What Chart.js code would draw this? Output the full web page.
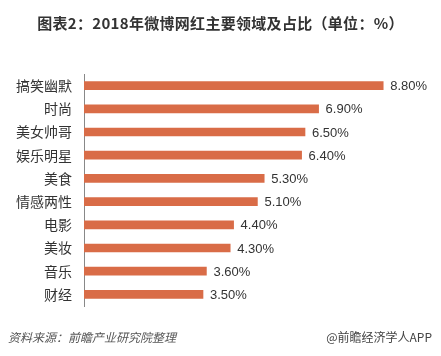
<!DOCTYPE html>
<html><head><meta charset="utf-8">
<script src="https://cdn.jsdelivr.net/npm/chart.js@4/dist/chart.umd.min.js"></script>
<style>
html,body{margin:0;padding:0;background:#fff;}
#wrap{position:relative;width:441px;height:356px;overflow:hidden;font-family:"Liberation Sans","Noto Sans CJK SC",sans-serif;}
#title{position:absolute;left:0;top:12px;width:441px;text-align:center;font-size:15px;letter-spacing:0.3px;font-weight:bold;color:#333;font-family:"Noto Sans CJK SC",sans-serif;}
#src{position:absolute;left:8px;top:328px;font-size:12px;font-style:italic;color:#555;font-family:"Noto Sans CJK SC",sans-serif;}
#app{position:absolute;right:9px;top:328px;font-size:12px;color:#444;font-family:"Noto Sans CJK SC",sans-serif;}
canvas{position:absolute;left:0;top:0;}
</style></head>
<body><div id="wrap">
<canvas id="c" width="441" height="356"></canvas>
<div id="title">图表2：2018年微博网红主要领域及占比（单位：%）</div>
<div id="src">资料来源：前瞻产业研究院整理</div>
<div id="app">@前瞻经济学人APP</div>
</div>
<script>
const categories = ["搞笑幽默","时尚","美女帅哥","娱乐明星","美食","情感两性","电影","美妆","音乐","财经"];
const values = [8.8, 6.9, 6.5, 6.4, 5.3, 5.1, 4.4, 4.3, 3.6, 3.5];

const valueLabels = {
  id:'valueLabels',
  afterDatasetsDraw(chart){
    const ctx = chart.ctx;
    const meta = chart.getDatasetMeta(0);
    ctx.save();
    ctx.font = '13px "Liberation Sans","Noto Sans CJK SC",sans-serif';
    ctx.fillStyle = '#333';
    ctx.textBaseline = 'middle';
    ctx.textAlign = 'left';
    meta.data.forEach((bar,i)=>{
      ctx.fillText(values[i].toFixed(2)+'%', bar.x + 7, bar.y + 1);
    });
    ctx.restore();
  }
};

new Chart(document.getElementById('c'), {
  type:'bar',
  data:{labels:categories, datasets:[{data:values, backgroundColor:'#D96C47', barThickness:8}]},
  options:{
    indexAxis:'y', responsive:false, animation:false,
    layout:{padding:{left:0,right:17,top:74,bottom:50}},
    plugins:{legend:{display:false}, tooltip:{enabled:false}},
    scales:{
      x:{display:false, min:0, max:10},
      y:{
        grid:{display:false, drawTicks:false},
        border:{display:true, color:'#888', width:1},
        ticks:{padding:12, color:'#333', font:{size:14, family:'"Noto Sans CJK SC",sans-serif'}},
        afterFit(scale){ scale.width = 84; }
      }
    }
  },
  plugins:[valueLabels]
});
</script>
</body></html>
